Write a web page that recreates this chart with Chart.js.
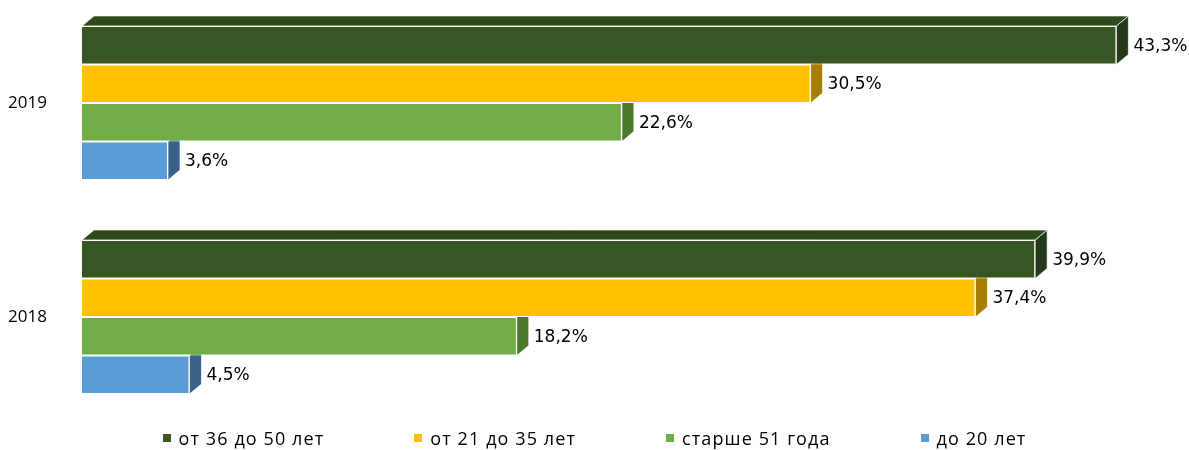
<!DOCTYPE html>
<html>
<head>
<meta charset="utf-8">
<script src="https://cdn.jsdelivr.net/npm/chart.js@4.4.0/dist/chart.umd.min.js"></script>
<style>
  html, body { margin: 0; background: #fff; }
  #wrap { position: relative; width: 1189px; height: 450px; overflow: hidden; }
  #chart { position: absolute; left: 0; top: -4px; }
  #legend {
    position: absolute; left: 0; top: 426px; width: 1189px; height: 24px;
    display: flex; justify-content: center; align-items: center; gap: 90px;
    font: 18px "Open Sans", sans-serif; letter-spacing: 1.1px; color: #000;
  }
  #legend span.item { display: flex; align-items: center; white-space: nowrap; }
  #legend span.box { width: 8px; height: 8px; margin-right: 8px; display: inline-block; }
</style>
</head>
<body>
<div id="wrap">
  <canvas id="chart" width="1189" height="454"></canvas>
  <div id="legend"></div>
</div>
<script>
const years = ["2019", "2018"];
const seriesNames = ["от 36 до 50 лет", "от 21 до 35 лет", "старше 51 года", "до 20 лет"];
const age36to50 = [43.3, 39.9];
const age21to35 = [30.5, 37.4];
const over51 = [22.6, 18.2];
const under20 = [3.6, 4.5];

const frontColors = ["#375623", "#FFC000", "#70AD47", "#5B9BD5"];
const sideColors = ["#24391a", "#a67e00", "#4b7a2f", "#3a6288"];
const topColor = "#2d4a1c";
const depthX = 12, depthY = 10;

// fake 3d: side faces and the top face go under the bars, labels go on top
const bar3d = {
  id: "bar3d",
  beforeDatasetsDraw(chart) {
    const ctx = chart.ctx;
    ctx.save();
    ctx.strokeStyle = "rgba(255,255,255,0.7)";
    ctx.lineWidth = 1;
    chart.data.datasets.forEach((ds, i) => {
      chart.getDatasetMeta(i).data.forEach(bar => {
        const top = bar.y - bar.height / 2;
        const bottom = bar.y + bar.height / 2;
        ctx.fillStyle = sideColors[i];
        ctx.beginPath();
        ctx.moveTo(bar.x, top);
        ctx.lineTo(bar.x + depthX, top - depthY);
        ctx.lineTo(bar.x + depthX, bottom - depthY);
        ctx.lineTo(bar.x, bottom);
        ctx.closePath();
        ctx.fill();
        ctx.stroke();
        if (i === 0) {
          ctx.fillStyle = topColor;
          ctx.beginPath();
          ctx.moveTo(bar.base, top);
          ctx.lineTo(bar.base + depthX, top - depthY);
          ctx.lineTo(bar.x + depthX, top - depthY);
          ctx.lineTo(bar.x, top);
          ctx.closePath();
          ctx.fill();
          ctx.stroke();
        }
      });
    });
    ctx.restore();
  },
  afterDatasetsDraw(chart) {
    const ctx = chart.ctx;
    ctx.save();
    ctx.font = '17px "DejaVu Sans", sans-serif';
    ctx.fillStyle = "#000";
    ctx.textBaseline = "middle";
    chart.data.datasets.forEach((ds, i) => {
      chart.getDatasetMeta(i).data.forEach((bar, j) => {
        const txt = ds.data[j].toFixed(1).replace(".", ",") + "%";
        ctx.fillText(txt, bar.x + depthX + 5, bar.y + 1);
      });
    });
    ctx.restore();
  }
};

const allSeries = [age36to50, age21to35, over51, under20];

new Chart(document.getElementById("chart"), {
  type: "bar",
  data: {
    labels: years,
    datasets: allSeries.map((vals, i) => ({
      label: seriesNames[i],
      data: vals,
      backgroundColor: frontColors[i],
      borderColor: "#ffffff",
      borderWidth: 1,
      barPercentage: 1,
      categoryPercentage: 0.72
    }))
  },
  options: {
    indexAxis: "y",
    responsive: false,
    animation: false,
    devicePixelRatio: 1,
    layout: { padding: { top: 0, right: 32, bottom: 26, left: 0 } },
    plugins: { legend: { display: false }, tooltip: { enabled: false } },
    scales: {
      x: { display: false, min: 0, max: 45 },
      y: {
        grid: { display: false },
        border: { display: false },
        ticks: { color: "#000", padding: 27, font: { family: "Open Sans", size: 17 } },
        afterFit(scale) {
          scale.width = 82;
          scale.paddingTop = 0;
          scale.paddingBottom = 0;
        }
      }
    }
  },
  plugins: [bar3d]
});

const legend = document.getElementById("legend");
seriesNames.forEach((name, i) => {
  const item = document.createElement("span");
  item.className = "item";
  item.innerHTML = '<span class="box" style="background:' + frontColors[i] + '"></span>' + name;
  legend.appendChild(item);
});
</script>
</body>
</html>
